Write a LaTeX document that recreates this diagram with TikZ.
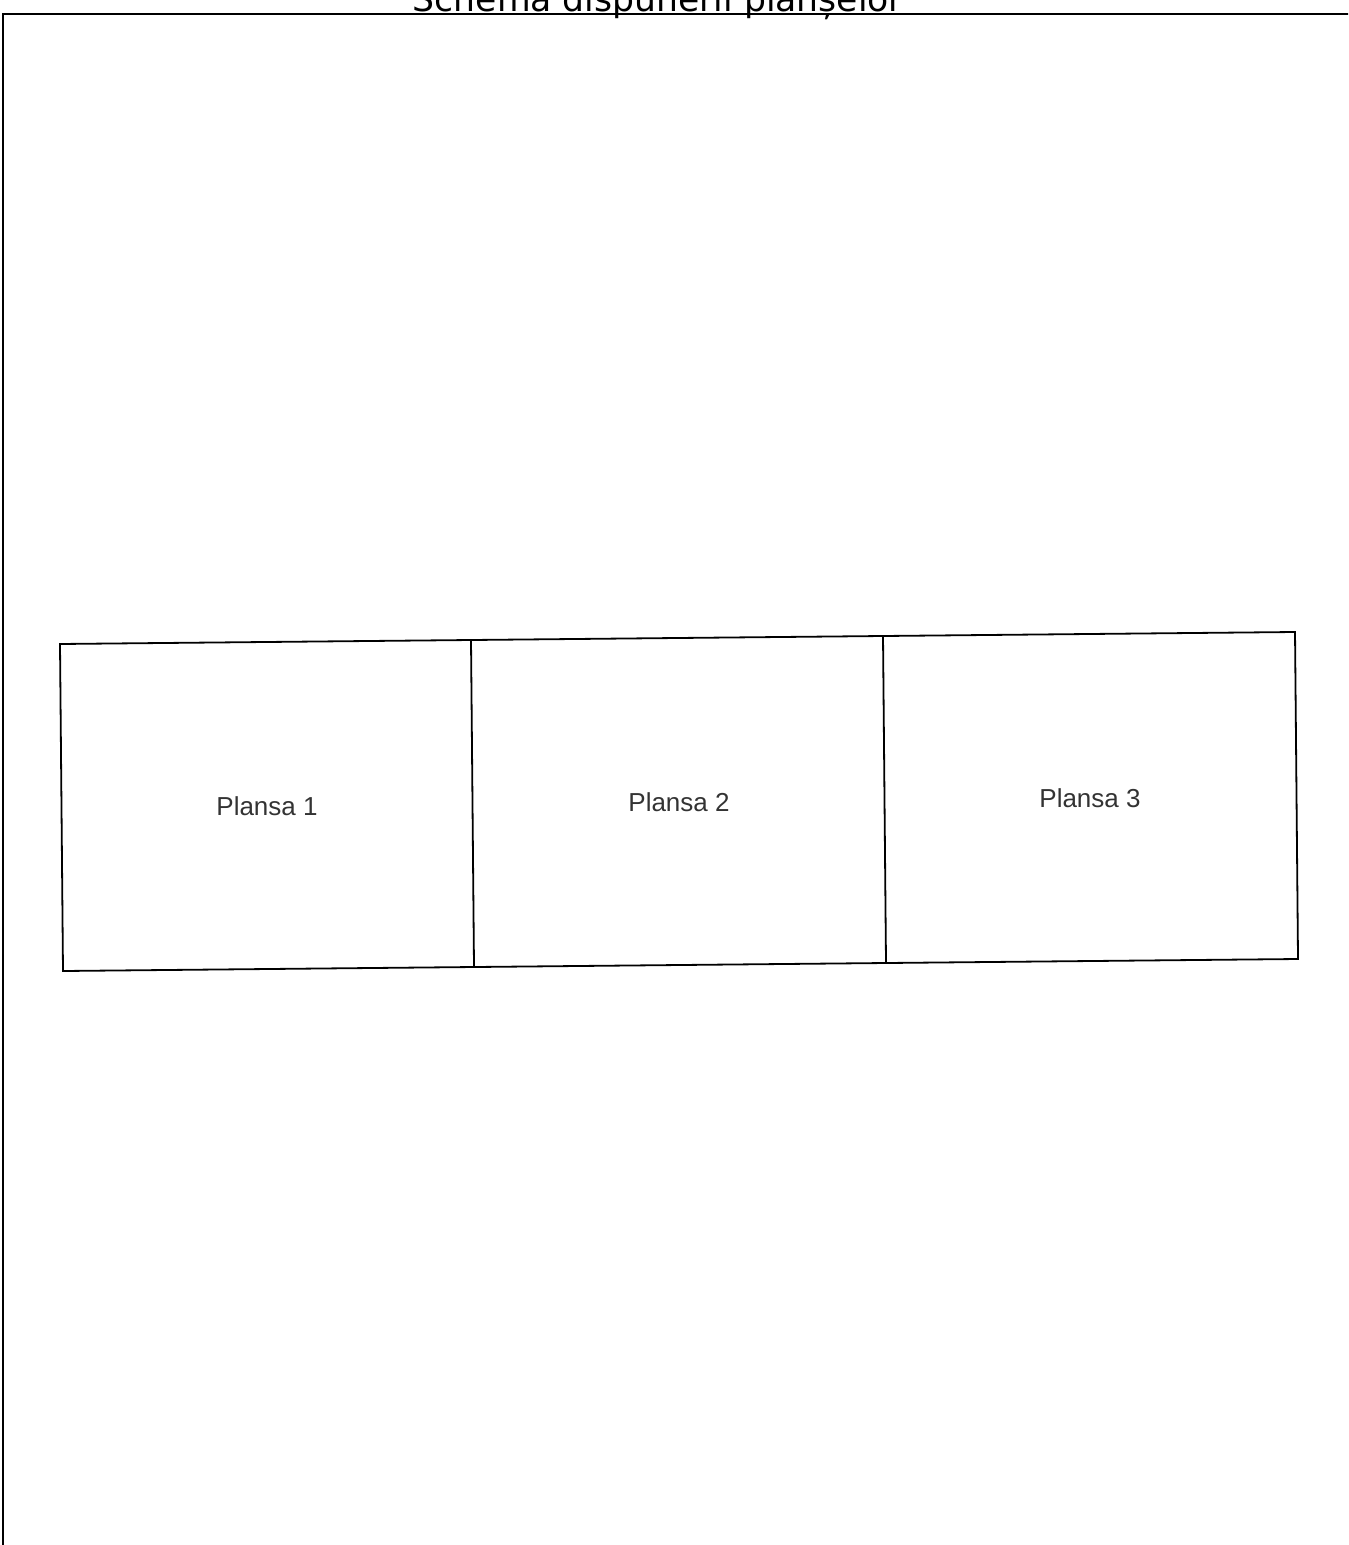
\documentclass[tikz,border=0pt]{standalone}
\usepackage{fontspec}
\setmainfont{Liberation Sans}
\newfontfamily\titlefont{DejaVu Sans}
\begin{document}
\begin{tikzpicture}[x=0.5pt, y=-0.5pt,
  sheet/.style={line width=0.9pt, black},
  sheetlabel/.style={text=black!80, font=\fontsize{13}{15}\selectfont}]
\useasboundingbox (0,0) rectangle (1348,1545);
\clip (0,0) rectangle (1348,1545);

% Frame
\draw[line width=1.2pt] (3,1560) -- (3,14) -- (1360,14);

% Title (cut by the page edge)
\node[anchor=base, font=\titlefont\fontsize{17.3}{19}\selectfont] (title) at (658,12) {Schema dispunerii planșelor};

% Corners of the sheets
\coordinate (t0) at (60,644);
\coordinate (t1) at (471,640);
\coordinate (t2) at (883,636);
\coordinate (t3) at (1295,632);
\coordinate (b0) at (63,971);
\coordinate (b1) at (474,967);
\coordinate (b2) at (886,963);
\coordinate (b3) at (1298,959);

% Sheets
\draw[sheet] (t0) -- (t3) -- (b3) -- (b0) -- cycle;
\draw[sheet] (t1) -- (b1);
\draw[sheet] (t2) -- (b2);

% Sheet labels
\node[sheetlabel] (p1) at (267,806) {Plansa 1};
\node[sheetlabel] (p2) at (679,802) {Plansa 2};
\node[sheetlabel] (p3) at (1090,798) {Plansa 3};

\end{tikzpicture}
\end{document}
